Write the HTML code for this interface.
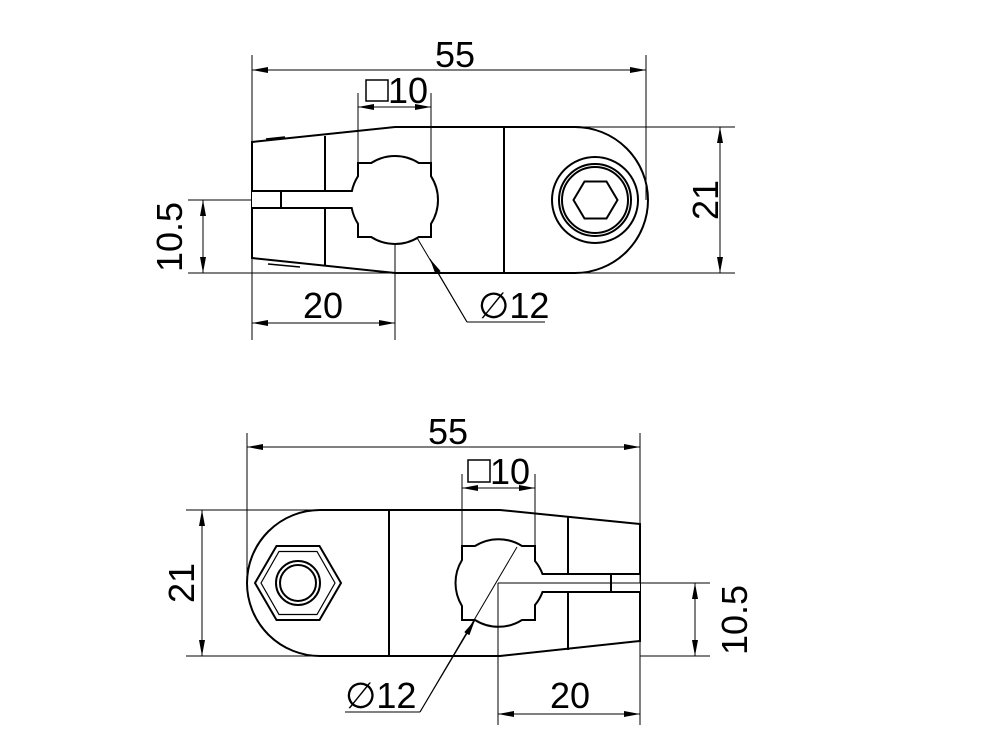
<!DOCTYPE html>
<html><head><meta charset="utf-8"><style>html,body{margin:0;padding:0;background:#fff}svg{display:block}text{font-family:"Liberation Sans",sans-serif;font-size:36px;fill:#000}</style></head><body>
<svg width="1000" height="750" viewBox="0 0 1000 750" xmlns="http://www.w3.org/2000/svg">
<defs>
<marker id="a" viewBox="0 0 16 6" refX="16" refY="3" markerWidth="16" markerHeight="6" markerUnits="userSpaceOnUse" orient="auto"><path d="M0,0 L16,3 L0,6 Z" fill="#000"/></marker>
</defs>
<g fill="none" stroke="#000" stroke-width="1">
<line x1="252" y1="55" x2="252" y2="340"/><line x1="646" y1="55" x2="646" y2="200"/>
<line x1="450" y1="70" x2="646" y2="70" marker-end="url(#a)"/>
<line x1="450" y1="70" x2="252" y2="70" marker-end="url(#a)"/>
<line x1="358" y1="93" x2="358" y2="163"/><line x1="431" y1="93" x2="431" y2="163"/>
<line x1="395" y1="107" x2="358" y2="107" marker-end="url(#a)"/><line x1="395" y1="107" x2="431" y2="107" marker-end="url(#a)"/>
<line x1="504" y1="127" x2="735" y2="127"/><line x1="582" y1="273" x2="735" y2="273"/>
<line x1="720" y1="200" x2="720" y2="127" marker-end="url(#a)"/><line x1="720" y1="200" x2="720" y2="273" marker-end="url(#a)"/>
<line x1="188" y1="200" x2="395" y2="200"/><line x1="188" y1="273" x2="395" y2="273"/>
<line x1="203" y1="236" x2="203" y2="200" marker-end="url(#a)"/><line x1="203" y1="236" x2="203" y2="273" marker-end="url(#a)"/>
<line x1="395" y1="200" x2="395" y2="340"/>
<line x1="323" y1="323" x2="252" y2="323" marker-end="url(#a)"/><line x1="323" y1="323" x2="395" y2="323" marker-end="url(#a)"/>
<line x1="372" y1="162" x2="467" y2="322"/><line x1="467" y1="322" x2="430" y2="259" marker-end="url(#a)"/><line x1="467" y1="322" x2="545" y2="322"/>
</g>
<g fill="none" stroke="#000" stroke-width="2">
<path d="M252,142 L395,127 L575,127 A73,73 0 0 1 575,273 L395,273 L252,258 Z"/>
<line x1="325" y1="136" x2="325" y2="266"/><line x1="504" y1="127" x2="504" y2="273"/>
<path d="M266,139 L285,137" stroke-width="1.5"/><path d="M268,264 L300,267" stroke-width="1.5"/>
<path d="M252,191 L351.9,191 A44,44 0 0 1 358,176.2 L358,163 L371.2,163 A44,44 0 0 1 418.8,163 L431,163 L431,176.2 A44,44 0 0 1 431,223.8 L431,237 L418.8,237 A44,44 0 0 1 371.2,237 L358,237 L358,223.8 A44,44 0 0 1 351.7,208 L252,208" fill="#fff"/>
<line x1="281" y1="191" x2="281" y2="208"/>
<circle cx="595" cy="200" r="43"/><circle cx="595" cy="200" r="36"/><circle cx="595" cy="200" r="33"/>
<polygon points="573.5,200 584.5,181.5 606.5,181.5 617.5,200 606.5,218.5 584.5,218.5"/>
<path d="M640,524 L500,510 L320,510 A73,73 0 0 0 320,656 L500,656 L640,641 Z"/>
<line x1="389" y1="510" x2="389" y2="656"/><line x1="568" y1="517" x2="568" y2="650"/>
<path d="M640,592 L542.5,592 A44,44 0 0 1 535,605 L535,620 L522,620 A44,44 0 0 1 475,620 L462,620 L462,606 A44,44 0 0 1 462,560 L462,546 L475,546 A44,44 0 0 1 522,546 L535,546 L535,561 A44,44 0 0 1 542.5,574 L640,574" fill="#fff"/>
<line x1="611" y1="574" x2="611" y2="592"/>
<polygon points="255,583 276.5,546 319.5,546 341,583 319.5,620 276.5,620"/>
<polygon points="261,583 279,551.5 317,551.5 335,583 317,614.5 279,614.5" stroke-width="1.2"/>
<circle cx="298" cy="583" r="22"/><circle cx="298" cy="583" r="18"/>
</g>
<g fill="none" stroke="#000" stroke-width="1">
<line x1="247" y1="433" x2="247" y2="580"/><line x1="640" y1="433" x2="640" y2="583"/>
<line x1="444" y1="447" x2="247" y2="447" marker-end="url(#a)"/><line x1="444" y1="447" x2="640" y2="447" marker-end="url(#a)"/>
<line x1="462" y1="474" x2="462" y2="546"/><line x1="535" y1="474" x2="535" y2="546"/>
<line x1="498" y1="488" x2="462" y2="488" marker-end="url(#a)"/><line x1="498" y1="488" x2="535" y2="488" marker-end="url(#a)"/>
<line x1="186" y1="510" x2="390" y2="510"/><line x1="186" y1="656" x2="500" y2="656"/>
<line x1="202" y1="583" x2="202" y2="510" marker-end="url(#a)"/><line x1="202" y1="583" x2="202" y2="656" marker-end="url(#a)"/>
<line x1="498" y1="583" x2="710" y2="583"/><line x1="640" y1="656" x2="710" y2="656"/>
<line x1="695" y1="620" x2="695" y2="583" marker-end="url(#a)"/><line x1="695" y1="620" x2="695" y2="656" marker-end="url(#a)"/>
<line x1="498" y1="583" x2="498" y2="725"/><line x1="640" y1="641" x2="640" y2="725"/>
<line x1="569" y1="714" x2="498" y2="714" marker-end="url(#a)"/><line x1="569" y1="714" x2="640" y2="714" marker-end="url(#a)"/>
<line x1="517" y1="547" x2="420" y2="712"/><line x1="420" y1="712" x2="475" y2="620" marker-end="url(#a)"/><line x1="420" y1="712" x2="345" y2="712"/>
<rect x="366" y="80" width="22" height="21" stroke-width="1.5"/>
<rect x="468" y="460" width="22" height="22" stroke-width="1.5"/>
</g>
<text x="455" y="67" text-anchor="middle">55</text>
<text x="388" y="103">10</text>
<text x="323" y="318" text-anchor="middle">20</text>
<text x="478" y="318">∅12</text>
<text transform="translate(718,200) rotate(-90)" text-anchor="middle">21</text>
<text transform="translate(182,237) rotate(-90)" text-anchor="middle">10.5</text>
<text x="448" y="444" text-anchor="middle">55</text>
<text x="490" y="484">10</text>
<text x="570" y="708" text-anchor="middle">20</text>
<text x="345" y="708">∅12</text>
<text transform="translate(194,583) rotate(-90)" text-anchor="middle">21</text>
<text transform="translate(747,620) rotate(-90)" text-anchor="middle">10.5</text>
</svg>
</body></html>
